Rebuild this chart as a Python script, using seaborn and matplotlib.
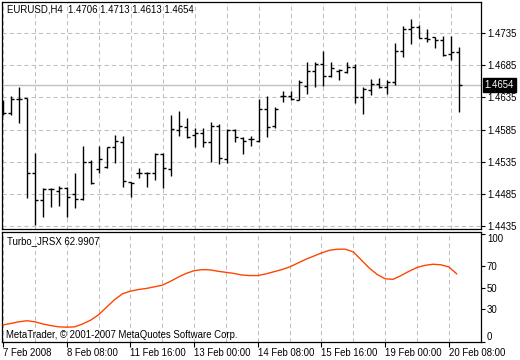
import numpy as np
import pandas as pd
import matplotlib
matplotlib.use("Agg")
import matplotlib.pyplot as plt
import seaborn as sns
from matplotlib.transforms import blended_transform_factory

# ---------------- data ----------------
opens = [1.4626, 1.4611, 1.4632, 1.4634, 1.4517, 1.4475, 1.4493, 1.4489, 1.4494, 1.4485,
         1.4477, 1.4534, 1.4524, 1.4527, 1.4558, 1.4566, 1.4503, 1.4517, 1.4517, 1.4517,
         1.4547, 1.4524, 1.4584, 1.4589, 1.4576, 1.4580, 1.4566, 1.4590, 1.4539, 1.4584,
         1.4572, 1.4570, 1.4567, 1.4617, 1.4590, 1.4637, 1.4637, 1.4631, 1.4653, 1.4676,
         1.4687, 1.4668, 1.4676, 1.4674, 1.4682, 1.4636, 1.4646, 1.4656, 1.4651, 1.4659,
         1.4707, 1.4741, 1.4744, 1.4727, 1.4729, 1.4724, 1.4702, 1.4706]
highs = [1.4631, 1.4637, 1.4651, 1.4634, 1.4548, 1.4494, 1.4494, 1.4497, 1.4496, 1.4517,
         1.4559, 1.4538, 1.4559, 1.4558, 1.4576, 1.4575, 1.4503, 1.4525, 1.4519, 1.4548,
         1.4548, 1.4608, 1.4614, 1.4603, 1.4587, 1.4587, 1.4597, 1.4594, 1.4586, 1.4586,
         1.4573, 1.4575, 1.4632, 1.4637, 1.4620, 1.4645, 1.4645, 1.4662, 1.4690, 1.4690,
         1.4707, 1.4690, 1.4679, 1.4690, 1.4687, 1.4651, 1.4663, 1.4665, 1.4662, 1.4719,
         1.4746, 1.4757, 1.4747, 1.4741, 1.4729, 1.4730, 1.4730, 1.4713]
lows = [1.4608, 1.4608, 1.4595, 1.4479, 1.4437, 1.4449, 1.4465, 1.4466, 1.4449, 1.4463,
        1.4475, 1.4500, 1.4517, 1.4525, 1.4533, 1.4496, 1.4480, 1.4510, 1.4496, 1.4507,
        1.4494, 1.4513, 1.4575, 1.4572, 1.4558, 1.4558, 1.4534, 1.4531, 1.4533, 1.4566,
        1.4547, 1.4559, 1.4566, 1.4573, 1.4587, 1.4628, 1.4631, 1.4631, 1.4640, 1.4651,
        1.4653, 1.4667, 1.4662, 1.4673, 1.4626, 1.4609, 1.4639, 1.4649, 1.4640, 1.4654,
        1.4698, 1.4718, 1.4727, 1.4721, 1.4712, 1.4699, 1.4693, 1.4613]
closes = [1.4611, 1.4632, 1.4632, 1.4517, 1.4475, 1.4493, 1.4493, 1.4494, 1.4480, 1.4477,
          1.4534, 1.4502, 1.4539, 1.4558, 1.4567, 1.4505, 1.4502, 1.4517, 1.4517, 1.4547,
          1.4525, 1.4586, 1.4590, 1.4573, 1.4580, 1.4566, 1.4590, 1.4541, 1.4584, 1.4573,
          1.4567, 1.4570, 1.4617, 1.4589, 1.4617, 1.4637, 1.4632, 1.4659, 1.4676, 1.4687,
          1.4668, 1.4681, 1.4677, 1.4682, 1.4636, 1.4648, 1.4656, 1.4651, 1.4659, 1.4707,
          1.4741, 1.4744, 1.4727, 1.4726, 1.4724, 1.4701, 1.4705, 1.4654]
jrsx = [15.6, 17.0, 18.5, 19.5, 18.5, 16.5, 15.0, 13.8, 13.5, 13.8,
        16.5, 20.0, 25.0, 32.0, 39.0, 44.5, 47.0, 48.5, 49.5, 51.0,
        52.5, 56.0, 60.0, 63.5, 66.0, 67.0, 66.8, 65.5, 64.5, 63.5,
        62.0, 61.5, 61.5, 63.0, 65.0, 67.0, 69.5, 73.0, 76.5, 79.5,
        82.5, 85.0, 86.0, 86.0, 83.5, 76.0, 68.5, 62.5, 58.5, 58.0,
        61.5, 65.5, 69.0, 71.0, 72.0, 71.5, 69.5, 63.0]
price_ticks = [1.4435, 1.4485, 1.4535, 1.4585, 1.4635, 1.4685, 1.4735]
osc_ticks = [0, 30, 50, 70, 100]
osc_levels = [30, 50, 70]
time_labels = ["7 Feb 2008", "8 Feb 08:00", "11 Feb 16:00", "13 Feb 00:00",
               "14 Feb 08:00", "15 Feb 16:00", "19 Feb 00:00", "20 Feb 08:00"]
time_label_bars = [0, 8, 16, 24, 32, 40, 48, 56]
symbol = "EURUSD,H4"
ind_name = "Turbo_JRSX"
ind_last = 62.9907
copyright_text = "MetaTrader, \u00a9 2001-2007 MetaQuotes Software Corp."

# ---------------- style ----------------
sns.set_style("white")
plt.rcParams['font.family'] = ['Liberation Sans', 'DejaVu Sans']
FS = 6.9
GRID = dict(color='#c0c0c0', linestyle=(0, (4, 3)), linewidth=0.75)

W, H = 520, 360
fig = plt.figure(figsize=(W / 100, H / 100), dpi=100)
fig.patch.set_facecolor('white')

def px_axes(x0, y0, x1, y1):
    return fig.add_axes([x0 / W, 1 - y1 / H, (x1 - x0) / W, (y1 - y0) / H])

ax1 = px_axes(2, 1.7, 480.7, 229.3)
ax2 = px_axes(2, 232, 480.7, 341.7)

n = len(opens)
bars = np.arange(n)
df = pd.DataFrame({"bar": bars, "open": opens, "high": highs,
                   "low": lows, "close": closes, "jrsx": jrsx})

xmin, xmax = -0.125, 59.71

# ---------------- main price panel ----------------
ax1.vlines(df["bar"], df["low"], df["high"], color='black', lw=1.0, zorder=3)
ax1.hlines(df["open"], df["bar"] - 0.36, df["bar"], color='black', lw=1.0, zorder=3)
ax1.hlines(df["close"], df["bar"], df["bar"] + 0.36, color='black', lw=1.0, zorder=3)
ax1.axhline(closes[-1], color='#c0c0c0', lw=1.0, zorder=2)

ax1.set_xlim(xmin, xmax)
ax1.set_ylim(1.44299, 1.47837)
ax1.set_xticks(range(0, 60, 4))
ax1.set_yticks(price_ticks)
ax1.set_yticklabels([f"{p:.4f}" for p in price_ticks])
ax1.yaxis.tick_right()
ax1.tick_params(axis='y', which='major', direction='out', length=3, width=0.8,
                pad=1.5, labelsize=FS, colors='black', right=True, left=False)
ax1.tick_params(axis='x', length=0, labelbottom=False, bottom=False)
ax1.grid(True, **GRID)
ax1.set_axisbelow(True)

tr = blended_transform_factory(ax1.transAxes, ax1.transData)
ax1.text(1 + 4 / 478.7, closes[-1], f"{closes[-1]:.4f}", transform=tr, ha='left',
         va='center', color='white', fontsize=FS, zorder=5,
         bbox=dict(facecolor='black', edgecolor='black', pad=1.3))

fig.text(7 / W, 1 - 10 / H,
         f"{symbol}  {opens[-1]:.4f} {highs[-1]:.4f} {lows[-1]:.4f} {closes[-1]:.4f}",
         ha='left', va='center', fontsize=FS, color='black')

# ---------------- indicator panel ----------------
sns.lineplot(data=df, x="bar", y="jrsx", ax=ax2, color='#ff4500', lw=1.0,
             legend=False, zorder=3)
ax2.set_xlabel("")
ax2.set_ylabel("")
ax2.set_xlim(xmin, xmax)
ax2.set_ylim(0, 102)
ax2.set_yticks(osc_ticks)
ax2.set_yticklabels([str(v) for v in osc_ticks])
ax2.set_yticks(osc_levels, minor=True)
ax2.yaxis.tick_right()
ax2.tick_params(axis='y', which='major', direction='out', length=3, width=0.8,
                pad=1.5, labelsize=FS, colors='black', right=True, left=False)
ax2.tick_params(axis='y', which='minor', length=0)
for t in ax2.yaxis.get_major_ticks():
    lab = t.label2.get_text()
    if lab == "100":
        t.label2.set_va('top')
    elif lab == "0":
        t.label2.set_va('bottom')

ax2.set_xticks(time_label_bars)
ax2.set_xticklabels(time_labels, ha='left')
ax2.set_xticks([b + 4 for b in time_label_bars], minor=True)
ax2.tick_params(axis='x', which='major', direction='out', length=3.5, width=0.8,
                pad=1.2, labelsize=FS, colors='black', bottom=True)
ax2.tick_params(axis='x', which='minor', length=0)
ax2.xaxis.grid(True, which='both', **GRID)
ax2.yaxis.grid(True, which='minor', **GRID)
ax2.yaxis.grid(False, which='major')
ax2.set_axisbelow(True)

fig.text(7 / W, 1 - 241 / H, f"{ind_name} {ind_last:.4f}", ha='left', va='center',
         fontsize=FS, color='black')
fig.text(6 / W, 1 - 335 / H, copyright_text, ha='left', va='center',
         fontsize=FS, color='black')

for ax in (ax1, ax2):
    for s in ax.spines.values():
        s.set_color('black')
        s.set_linewidth(0.9)
        s.set_visible(True)

fig.savefig("out.png", dpi=100, facecolor='white')
